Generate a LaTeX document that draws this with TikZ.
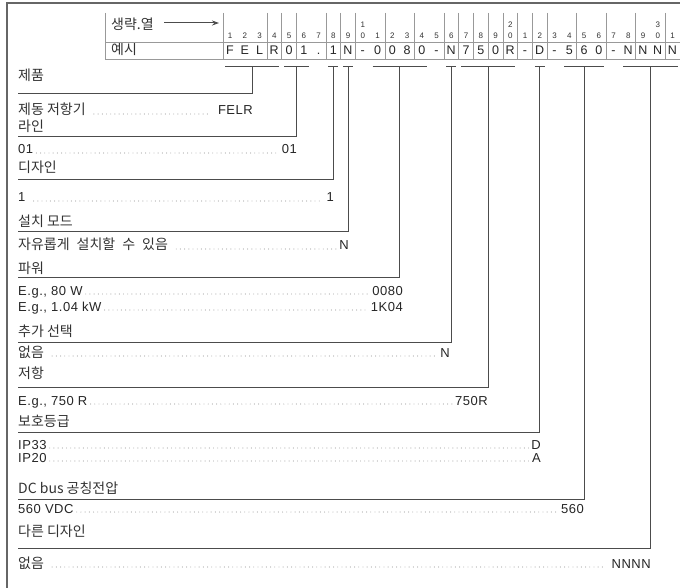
\documentclass[tikz,border=0pt]{standalone}
\usepackage{fontspec}
\setmainfont{Liberation Sans}
\newfontfamily\kr{Noto Sans CJK KR}
\newfontfamily\vf[LetterSpace=4]{Liberation Sans}
\usetikzlibrary{arrows.meta}
\begin{document}
\begin{tikzpicture}[x=1pt,y=-1pt,
  frame/.style={draw=black!60,line width=1.1pt},
  gridl/.style={draw=black!40,line width=0.6pt},
  conn/.style={draw=black!70,line width=1pt},
  bracket/.style={draw=black!70,line width=1pt},
  lbl/.style={anchor=base west,inner sep=0pt,text=black!80,font=\kr\fontsize{14}{16}\selectfont},
  val/.style={anchor=base east,inner sep=0pt,text=black!85,font=\vf\fontsize{13}{15}\selectfont},
  vtxt/.style={anchor=base west,inner sep=0pt,text=black!85,font=\vf\fontsize{13}{15}\selectfont},
  lead/.style={draw=black!55,line width=0.9pt,line cap=round,dash pattern=on 0pt off 4.2pt},
  hd/.style={inner sep=0pt,anchor=base,text=black!80,font=\fontsize{8}{9}\selectfont},
  hl/.style={inner sep=0pt,anchor=base,text=black!85,font=\fontsize{12.5}{14}\selectfont}]
\useasboundingbox (0,0) rectangle (680,588);
\fill[white] (0,0) rectangle (680,588);
% outer frame
\draw[frame] (7,588) -- (7,3) -- (680,3);
% header
\node[lbl] (hA) at (111,30) {생략.열};
\node[lbl] (hB) at (111,55) {예시};
\coordinate (arS) at (164,23);
\coordinate (arE) at (219,23);
\draw[conn,-{Stealth[length=7pt,width=5pt]}] (arS) -- (arE);
\draw[gridl] (105,42) -- (680,42) (105,59) -- (680,59) (105,13) -- (105,59) (223,13) -- (223,59);
\foreach \k in {3,4,5,7,8,9,11,13,15,16,17,18,19,20,21,22,24,26,28,30}
  \draw[gridl] ({230+(\k-0.5)*14.75},13) -- ++(0,46);
\foreach \n in {1,...,31} {
  \pgfmathtruncatemacro\d{mod(\n,10)}
  \node[hd] (d\n) at ({230+(\n-1)*14.75},39) {\d};
}
\node[hd] (t10) at ({230+9*14.75},28) {1};
\node[hd] (t20) at ({230+19*14.75},28) {2};
\node[hd] (t30) at ({230+29*14.75},28) {3};
\foreach \ch [count=\n] in {F,E,L,R,0,1,.,1,N,-,0,0,8,0,-,N,7,5,0,R,-,D,-,5,6,0,-,N,N,N,N}
  \node[hl] (e\n) at ({230+(\n-1)*14.75},55) {\ch};
% brackets and connectors
\foreach \a/\b/\ly/\i in {1/4/94/1, 5/6/137/2, 8/8/180/3, 9/9/232/4, 11/14/277/5, 16/16/342/6, 17/20/387/7, 22/22/432/8, 24/26/499/9, 28/31/548/10} {
  \pgfmathsetmacro\xa{230+(\a-1)*14.75-5}
  \pgfmathsetmacro\xb{230+(\b-1)*14.75+5}
  \pgfmathsetmacro\xm{(\xa+\xb)/2}
  \coordinate (ba\i) at (\xa,67);
  \coordinate (bb\i) at (\xb,67);
  \coordinate (bm\i) at (\xm,67);
  \coordinate (le\i) at (18,\ly);
  \draw[bracket] (ba\i) -- (bb\i);
  \draw[conn] (bm\i) |- (le\i);
}
% titles
\node[lbl] (c1) at (18,81) {제품};
\node[lbl] (c2) at (18,132) {라인};
\node[lbl] (c3) at (18,173) {디자인};
\node[lbl] (c4) at (18,226) {설치 모드};
\node[lbl] (c5) at (18,273) {파워};
\node[lbl] (c6) at (18,336) {추가 선택};
\node[lbl] (c7) at (18,378) {저항};
\node[lbl] (c8) at (18,426) {보호등급};
\node[lbl] (c9) at (18,493) {DC bus 공칭전압};
\node[lbl] (c10) at (18,536) {다른 디자인};
% value rows
\node[lbl] (l1) at (18,115) {제동 저항기};
\node[val] (v1) at (253,115) {FELR};
\node[vtxt] (l2) at (18,154) {01};
\node[val] (v2) at (297,154) {01};
\node[vtxt] (l3) at (18,202) {1};
\node[val] (v3) at (334,202) {1};
\node[lbl] (l4) at (18,250) {자유롭게\hspace{0.5em}설치할\hspace{0.5em}수\hspace{0.5em}있음};
\node[val] (v4) at (349,250) {N};
\node[vtxt] (l5) at (18,295) {E.g., 80 W};
\node[val] (v5) at (403,295) {0080};
\node[vtxt] (l6) at (18,311) {E.g., 1.04 kW};
\node[val] (v6) at (403,311) {1K04};
\node[lbl] (l7) at (18,357) {없음};
\node[val] (v7) at (450,357) {N};
\node[vtxt] (l8) at (18,405) {E.g., 750 R};
\node[val] (v8) at (488,405) {750R};
\node[vtxt] (l9) at (18,449) {IP33};
\node[val] (v9) at (541,449) {D};
\node[vtxt] (l10) at (18,462) {IP20};
\node[val] (v10) at (541,462) {A};
\node[vtxt] (l11) at (18,513) {560 VDC};
\node[val] (v11) at (584,513) {560};
\node[lbl] (l12) at (18,568) {없음};
\node[val] (v12) at (651,568) {NNNN};
\foreach \i/\g/\h in {1/8/7,2/3/3,3/8/3,4/8/3,5/3/2,6/3/2,7/8/3,8/3/2,9/3/2,10/3/2,11/3/2,12/8/6}
  \draw[lead] ([xshift=\g pt,yshift=1pt]l\i.base east) -- ([xshift=-\h pt,yshift=1pt]v\i.base west);
\end{tikzpicture}
\end{document}
